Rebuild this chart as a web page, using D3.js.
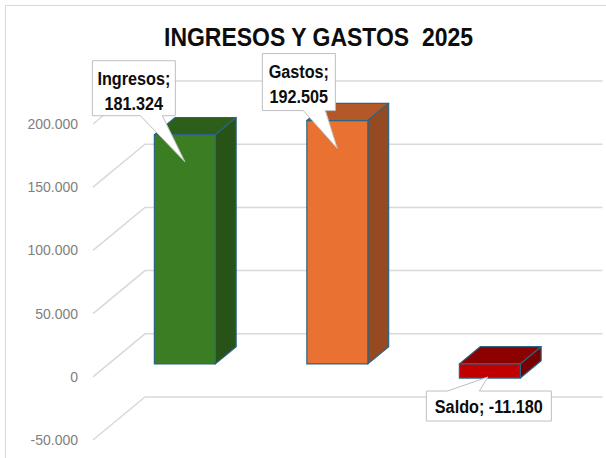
<!DOCTYPE html>
<html>
<head>
<meta charset="utf-8">
<script src="https://cdn.jsdelivr.net/npm/d3@7"></script>
<style>
  html, body { margin: 0; padding: 0; background: #fff; }
  svg { display: block; }
</style>
</head>
<body>
<svg id="chart"></svg>
<script>
// data
const title = "INGRESOS Y GASTOS  2025";
const categories = ["Ingresos", "Gastos", "Saldo"];
const values = [181324, 192505, -11180];
const tickValues = [-50000, 0, 50000, 100000, 150000, 200000];

const width = 606;
const height = 458;

// bar colours: front, top, side
const faceColors = [
  { front: "#3a7d22", top: "#2d5f1a", side: "#285318" },
  { front: "#e97132", top: "#b4582a", side: "#954a21" },
  { front: "#c00000", top: "#8c0000", side: "#780000" }
];

// callout boxes, relative to the bar's front face
const callouts = [
  { dx: -92.5, dy: -74, w: 83, h: 55, b0: 48, b1: 70, tx: 0, ty: 27 },
  { dx: -75, dy: -67, w: 73, h: 57, b0: 41, b1: 63, tx: 0, ty: 28 },
  { dx: -63.5, dy: 13, w: 125, h: 30, b0: 21, b1: 53, tx: -2, ty: -1 }
];

const es = d3.formatLocale({ decimal: ",", thousands: ".", grouping: [3], currency: ["", ""], minus: "-" });
const fmt = es.format(",d");

const svg = d3.select("#chart").attr("width", width).attr("height", height);

// chart area border
svg.append("path")
  .attr("d", "M5.5,458 V5.5 H606")
  .attr("fill", "none")
  .attr("stroke", "#d9d9d9")
  .attr("stroke-width", 1);

// front plane scales, plus the depth vector of the floor
const y = d3.scaleLinear().domain([-50000, 200000]).range([440, 124]);
const x = d3.scaleBand().domain(categories).range([93, 550.5]).paddingInner(0).paddingOuter(0);
const depth = { x: 52, y: -43 };
const barFront = 0.3, barBack = 0.7;

// gridlines: diagonal on the left wall, flat on the back wall
const grid = svg.append("g").attr("stroke", "#d9d9d9").attr("stroke-width", 1.5).attr("fill", "none");
grid.selectAll("path")
  .data(tickValues)
  .join("path")
  .attr("d", d => {
    const y0 = y(d);
    return `M${x.range()[0]},${y0} L${x.range()[0] + depth.x},${y0 + depth.y} H${x.range()[1] + depth.x}`;
  });

svg.append("g")
  .selectAll("text")
  .data(tickValues)
  .join("text")
  .attr("x", 78)
  .attr("y", d => y(d))
  .attr("dy", "0.36em")
  .attr("text-anchor", "end")
  .attr("font-family", "Liberation Sans, Arial, sans-serif")
  .attr("font-size", 14)
  .attr("fill", "#808080")
  .text(d => fmt(d));

// 3D bars
const bars = categories.map((c, i) => {
  const bw = x.bandwidth() * 0.4;
  const cx = x(c) + x.bandwidth() / 2 + depth.x * barFront;
  const yTop = y(Math.max(values[i], 0)) + depth.y * barFront;
  const yBot = y(Math.min(values[i], 0)) + depth.y * barFront;
  return { c, i, v: values[i], x0: cx - bw / 2, x1: cx + bw / 2, cx, yTop, yBot };
});

const bd = { x: depth.x * (barBack - barFront), y: depth.y * (barBack - barFront) };
const poly = pts => "M" + pts.map(p => p.join(",")).join("L") + "Z";

const barG = svg.append("g")
  .attr("stroke", "#2a6584")
  .attr("stroke-width", 1.2)
  .attr("stroke-linejoin", "round");

bars.forEach(b => {
  const col = faceColors[b.i];
  barG.append("path").attr("fill", col.top).attr("d", poly([
    [b.x0, b.yTop], [b.x1, b.yTop], [b.x1 + bd.x, b.yTop + bd.y], [b.x0 + bd.x, b.yTop + bd.y]
  ]));
  barG.append("path").attr("fill", col.side).attr("d", poly([
    [b.x1, b.yTop], [b.x1 + bd.x, b.yTop + bd.y], [b.x1 + bd.x, b.yBot + bd.y], [b.x1, b.yBot]
  ]));
  barG.append("path").attr("fill", col.front).attr("d", poly([
    [b.x0, b.yTop], [b.x1, b.yTop], [b.x1, b.yBot], [b.x0, b.yBot]
  ]));
});

// no narrow font here, so squeeze the bold text a little
const labelFont = "'Liberation Sans Narrow', 'Arial Narrow', 'Liberation Sans', sans-serif";
const squeeze = 0.9;

// callouts with a pointer wedge
bars.forEach(b => {
  const L = callouts[b.i];
  const anchorY = b.v >= 0 ? b.yTop : b.yBot;
  const bx = b.cx + L.dx, by = anchorY + L.dy;
  const tip = [b.cx + L.tx, anchorY + L.ty];
  let d;
  if (b.v >= 0) {
    d = `M${bx},${by} H${bx + L.w} V${by + L.h} H${bx + L.b1} L${tip[0]},${tip[1]} L${bx + L.b0},${by + L.h} H${bx} Z`;
  } else {
    d = `M${bx},${by} H${bx + L.b0} L${tip[0]},${tip[1]} L${bx + L.b1},${by} H${bx + L.w} V${by + L.h} H${bx} Z`;
  }
  svg.append("path").attr("d", d).attr("fill", "#fff").attr("stroke", "#bfbfbf").attr("stroke-width", 1);

  const lines = b.v >= 0 ? [b.c + ";", fmt(b.v)] : [b.c + "; " + fmt(b.v)];
  svg.append("g")
    .selectAll("text")
    .data(lines)
    .join("text")
    .attr("x", bx + L.w / 2)
    .attr("y", (d, j) => lines.length > 1 ? by + 24 + j * 25 : by + 22)
    .attr("text-anchor", "middle")
    .attr("font-family", labelFont)
    .attr("font-weight", "bold")
    .attr("font-size", 18)
    .attr("fill", "#0d0d0d")
    .text(d => d)
    .each(function () {
      d3.select(this)
        .attr("textLength", this.getComputedTextLength() * squeeze)
        .attr("lengthAdjust", "spacingAndGlyphs");
    });
});

// title
svg.append("text")
  .attr("x", 318.5)
  .attr("y", 46)
  .attr("text-anchor", "middle")
  .attr("font-family", labelFont)
  .attr("font-weight", "bold")
  .attr("font-size", 26)
  .attr("fill", "#0d0d0d")
  .style("white-space", "pre")
  .attr("textLength", 309)
  .attr("lengthAdjust", "spacingAndGlyphs")
  .text(title);
</script>
</body>
</html>
